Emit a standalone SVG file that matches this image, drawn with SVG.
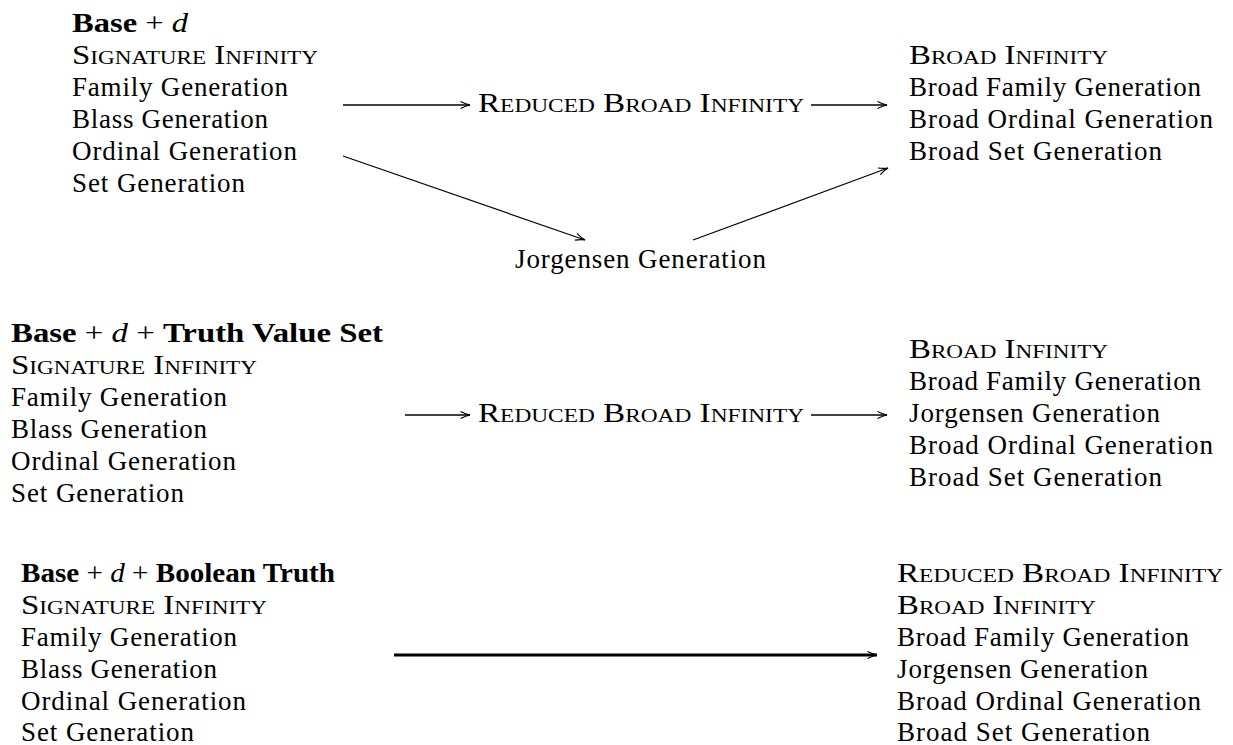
<svg xmlns="http://www.w3.org/2000/svg" width="1233" height="745" viewBox="0 0 1233 745" font-family="'Liberation Serif', 'DejaVu Serif', serif">
<style>
text{font-family:"Liberation Serif","DejaVu Serif",serif;font-size:27px;fill:#000}
.sc{font-variant:small-caps}
.b{font-weight:bold}
.i{font-style:italic}
.c{stroke:#000;fill:none;stroke-width:1.5;marker-end:url(#ah)}
.thin{stroke-width:1.2}
.thick{stroke-width:2.8}
</style>
<defs>
<marker id="ah" markerUnits="userSpaceOnUse" markerWidth="14" markerHeight="12" refX="12" refY="6" orient="auto" viewBox="0 0 14 12">
<path d="M2.5,2.5 Q8,5.3 12,6 Q8,6.7 2.5,9.5" fill="none" stroke="#000" stroke-width="1.2"/>
</marker>
</defs>
<rect width="1233" height="745" fill="#fff"/>

<g id="connectors">
<line class="c" x1="343" y1="105" x2="470" y2="105"/>
<line class="c" x1="811" y1="105" x2="887" y2="105"/>
<line class="c thin" x1="343" y1="156" x2="585" y2="240"/>
<line class="c thin" x1="693" y1="240" x2="888" y2="168"/>
<line class="c" x1="405" y1="415" x2="470" y2="415"/>
<line class="c" x1="811" y1="415" x2="887" y2="415"/>
<line class="c thick" x1="394" y1="655" x2="877" y2="655"/>
</g>

<g id="g1-left">
<text x="72" y="32" textLength="116" lengthAdjust="spacingAndGlyphs"><tspan class="b">Base</tspan> + <tspan class="i">d</tspan></text>
<text x="72" y="64" class="sc" textLength="246" lengthAdjust="spacingAndGlyphs">Signature Infinity</text>
<text x="72" y="96" textLength="216" lengthAdjust="spacing">Family Generation</text>
<text x="72" y="128" textLength="196" lengthAdjust="spacing">Blass Generation</text>
<text x="72" y="160" textLength="225" lengthAdjust="spacing">Ordinal Generation</text>
<text x="72" y="192" textLength="173" lengthAdjust="spacing">Set Generation</text>
</g>
<g id="g1-reduced">
<text x="478" y="112" class="sc" textLength="326" lengthAdjust="spacingAndGlyphs">Reduced Broad Infinity</text>
</g>
<g id="g1-jorgensen">
<text x="515" y="268" textLength="251" lengthAdjust="spacing">Jorgensen Generation</text>
</g>
<g id="g1-right">
<text x="909" y="64" class="sc" textLength="199" lengthAdjust="spacingAndGlyphs">Broad Infinity</text>
<text x="909" y="96" textLength="292" lengthAdjust="spacing">Broad Family Generation</text>
<text x="909" y="128" textLength="304" lengthAdjust="spacing">Broad Ordinal Generation</text>
<text x="909" y="160" textLength="253" lengthAdjust="spacing">Broad Set Generation</text>
</g>

<g id="g2-left">
<text x="11" y="342" textLength="372" lengthAdjust="spacingAndGlyphs"><tspan class="b">Base</tspan> + <tspan class="i">d</tspan> + <tspan class="b">Truth Value Set</tspan></text>
<text x="11" y="374" class="sc" textLength="246" lengthAdjust="spacingAndGlyphs">Signature Infinity</text>
<text x="11" y="406" textLength="216" lengthAdjust="spacing">Family Generation</text>
<text x="11" y="438" textLength="196" lengthAdjust="spacing">Blass Generation</text>
<text x="11" y="470" textLength="225" lengthAdjust="spacing">Ordinal Generation</text>
<text x="11" y="502" textLength="173" lengthAdjust="spacing">Set Generation</text>
</g>
<g id="g2-reduced">
<text x="478" y="422" class="sc" textLength="326" lengthAdjust="spacingAndGlyphs">Reduced Broad Infinity</text>
</g>
<g id="g2-right">
<text x="909" y="358" class="sc" textLength="199" lengthAdjust="spacingAndGlyphs">Broad Infinity</text>
<text x="909" y="390" textLength="292" lengthAdjust="spacing">Broad Family Generation</text>
<text x="909" y="422" textLength="251" lengthAdjust="spacing">Jorgensen Generation</text>
<text x="909" y="454" textLength="304" lengthAdjust="spacing">Broad Ordinal Generation</text>
<text x="909" y="486" textLength="253" lengthAdjust="spacing">Broad Set Generation</text>
</g>

<g id="g3-left">
<text x="21" y="582" textLength="314" lengthAdjust="spacingAndGlyphs"><tspan class="b">Base</tspan> + <tspan class="i">d</tspan> + <tspan class="b">Boolean Truth</tspan></text>
<text x="21" y="614" class="sc" textLength="246" lengthAdjust="spacingAndGlyphs">Signature Infinity</text>
<text x="21" y="646" textLength="216" lengthAdjust="spacing">Family Generation</text>
<text x="21" y="678" textLength="196" lengthAdjust="spacing">Blass Generation</text>
<text x="21" y="710" textLength="225" lengthAdjust="spacing">Ordinal Generation</text>
<text x="21" y="741" textLength="173" lengthAdjust="spacing">Set Generation</text>
</g>
<g id="g3-right">
<text x="897" y="582" class="sc" textLength="326" lengthAdjust="spacingAndGlyphs">Reduced Broad Infinity</text>
<text x="897" y="614" class="sc" textLength="199" lengthAdjust="spacingAndGlyphs">Broad Infinity</text>
<text x="897" y="646" textLength="292" lengthAdjust="spacing">Broad Family Generation</text>
<text x="897" y="678" textLength="251" lengthAdjust="spacing">Jorgensen Generation</text>
<text x="897" y="710" textLength="304" lengthAdjust="spacing">Broad Ordinal Generation</text>
<text x="897" y="741" textLength="253" lengthAdjust="spacing">Broad Set Generation</text>
</g>
</svg>
